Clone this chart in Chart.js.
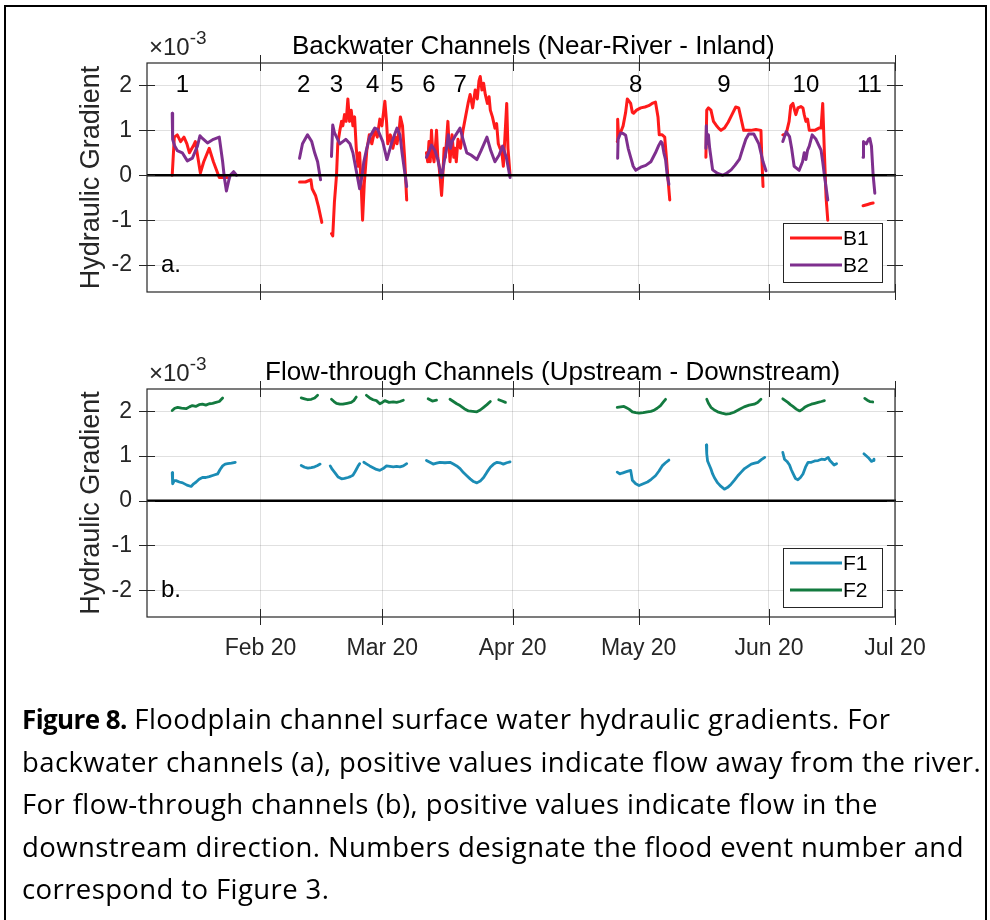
<!DOCTYPE html>
<html>
<head>
<meta charset="utf-8">
<script src="https://cdn.jsdelivr.net/npm/chart.js@4.4.1/dist/chart.umd.min.js"></script>
<style>
  body { margin: 0; background: #fff; }
  #page { position: relative; width: 990px; height: 920px; overflow: hidden; background: #fff; }
  #frame { position: absolute; left: 4px; top: 5px; width: 983px; height: 960px; border: 2px solid #000; box-sizing: border-box; }
  canvas { position: absolute; left: 0; }
  #caption { position: absolute; left: 22px; top: 698px; font-family: "Open Sans", Lato, sans-serif; font-size: 27.5px; letter-spacing: 0.4px; line-height: 42.5px; color: #000; white-space: nowrap; }
  #caption b { font-size: 26px; letter-spacing: -0.6px; }
</style>
</head>
<body>
<div id="page">
  <div id="frame"></div>
  <canvas id="topChart" width="990" height="330" style="top:0px"></canvas>
  <canvas id="botChart" width="990" height="370" style="top:330px"></canvas>
  <div id="caption">
    <b>Figure 8.</b> Floodplain channel surface water hydraulic gradients. For<br>
    backwater channels (a), positive values indicate flow away from the river.<br>
    For flow-through channels (b), positive values indicate flow in the<br>
    downstream direction. Numbers designate the flood event number and<br>
    correspond to Figure 3.
  </div>
</div>
<script>
// x = day of 2020 (Jan 1 = 0), y = hydraulic gradient x 1e-3
var xTickDays = [31, 60, 91, 121, 152, 182];
var xTickLabels = ['Feb 20', 'Mar 20', 'Apr 20', 'May 20', 'Jun 20', 'Jul 20'];
var yTicks = [-2, -1, 0, 1, 2];

var eventNames = ['1', '2', '3', '4', '5', '6', '7', '8', '9', '10', '11'];
var eventDays = [12.4, 41.3, 49.1, 57.7, 63.5, 71.1, 78.5, 120.3, 141.3, 160.8, 175.9];

// backwater channel B1 (red), one list per flood event
var B1 = [
  [[10.0,0.0],[10.5,0.85],[11.2,0.9],[12.0,0.75],[12.8,0.85],[13.5,0.7],[14.1,0.5],[15.0,0.65],[15.5,0.75],[16.1,0.4],[16.7,0.05],[17.5,0.3],[18.8,0.6],[19.8,0.3],[21.2,-0.05],[23.1,-0.05]],
  [[40.3,-0.15],[41.7,-0.15],[43.0,-0.1],[43.3,-0.3],[44.1,-0.45],[44.8,-0.7],[45.6,-1.05]],
  [[47.9,-1.3],[48.2,-1.35],[48.6,-0.6],[49.1,0.0],[49.4,0.7],[49.9,1.0],[50.3,1.2],[50.6,1.1],[51.0,1.35],[51.4,1.2],[51.8,1.7],[52.2,1.2],[52.6,1.45],[53.0,1.1],[53.4,1.3],[53.8,0.6],[54.2,0.2],[54.6,0.5],[55.0,-0.3],[55.3,-1.0],[55.7,-0.2],[56.3,0.55],[56.9,0.9],[57.5,0.7],[58.2,1.0],[58.8,0.85],[59.4,1.25],[59.9,1.1],[60.6,1.65],[61.0,1.2],[61.3,0.7],[61.9,0.9],[62.5,0.6],[63.1,0.85],[63.5,0.7],[64.0,1.0],[64.3,1.3],[64.8,1.1],[65.3,0.4],[65.8,-0.55]],
  [[70.5,0.5],[70.8,0.3],[71.1,0.75],[71.4,0.3],[71.7,1.0],[72.0,0.5],[72.3,0.3],[72.6,0.6],[72.9,1.0],[73.2,0.4],[73.5,0.2],[73.8,-0.1],[74.1,-0.45],[74.4,0.0],[74.7,0.6],[75.0,0.4],[75.3,0.8],[75.6,1.2],[76.1,0.3],[76.6,0.9],[77.0,0.4],[77.3,0.6],[77.6,0.3],[78.0,0.8],[78.6,0.6],[79.2,1.0],[79.8,1.3],[80.4,1.6],[80.9,1.8],[81.5,1.5],[82.1,1.9],[82.6,1.7],[83.0,2.1],[83.3,2.2],[83.7,1.9],[84.1,2.05],[84.5,1.8],[85.0,1.6],[85.4,1.75],[85.7,1.45],[86.2,1.3],[86.8,1.05],[87.2,1.15],[87.6,0.7],[88.0,0.6],[88.4,0.55],[88.8,0.2],[89.2,0.9],[89.6,1.6],[89.9,0.6],[90.4,0.0]],
  [[115.9,0.75],[116.0,1.25],[116.2,0.9],[116.7,0.95],[117.3,1.1],[117.9,1.4],[118.3,1.7],[118.7,1.65],[119.1,1.6],[119.5,1.4],[119.8,1.38],[120.5,1.45],[121.5,1.5],[122.5,1.52],[123.4,1.55],[124.2,1.6],[125.0,1.63],[125.6,1.3],[125.9,0.9],[126.6,0.9],[127.2,0.85],[127.6,0.4],[128.0,-0.1],[128.4,-0.55]],
  [[137.0,0.4],[137.2,1.45],[137.6,1.5],[138.2,1.45],[138.8,1.2],[139.4,1.12],[140.0,1.05],[140.6,1.0],[141.4,1.05],[142.3,1.18],[143.2,1.35],[144.1,1.52],[144.8,1.5],[145.4,1.25],[146.0,1.0],[147.7,1.0],[148.9,1.02],[150.1,1.0],[150.3,0.4],[150.6,-0.25]],
  [[155.3,0.9],[156.1,0.92],[156.8,1.2],[157.2,1.55],[157.7,1.6],[158.1,1.45],[158.4,1.35],[158.9,1.5],[159.6,1.53],[160.1,1.5],[160.4,1.35],[160.8,1.2],[161.2,1.25],[161.6,1.0],[162.0,1.0],[162.9,1.0],[163.9,1.05],[164.4,1.05],[164.8,1.6],[165.2,0.5],[165.6,-0.5],[166.0,-1.0]],
  [[174.4,-0.68],[175.5,-0.65],[176.2,-0.63],[176.8,-0.62],[177.0,-0.62]]
];

// backwater channel B2 (purple)
var B2 = [
  [[10.0,1.38],[10.1,0.8],[10.6,0.65],[11.2,0.55],[12.4,0.5],[13.6,0.32],[14.8,0.38],[16.0,0.65],[16.6,0.88],[17.2,0.82],[18.4,0.72],[19.8,0.8],[21.2,0.85],[22.0,0.3],[22.4,-0.05],[22.9,-0.35],[23.5,-0.1],[23.8,0.0],[24.6,0.08],[25.3,0.0]],
  [[40.3,0.38],[41.0,0.7],[42.2,0.9],[43.2,0.75],[43.9,0.5],[44.6,0.3],[45.3,-0.1]],
  [[47.9,0.42],[48.2,1.12],[48.6,0.95],[49.9,0.7],[51.3,0.8],[52.3,0.7],[53.0,0.5],[53.8,0.1],[54.6,-0.3],[55.2,0.0],[55.6,0.3],[56.3,0.6],[57.0,0.85],[58.2,1.05],[58.9,1.02],[60.1,0.75],[61.1,0.35],[62.3,0.75],[63.5,1.05],[64.2,0.9],[64.7,0.5],[65.8,-0.25]],
  [[70.5,0.4],[71.0,0.5],[71.7,0.67],[72.5,0.55],[73.2,0.35],[74.1,-0.05],[74.9,0.4],[75.3,0.6],[75.7,0.9],[76.2,0.6],[76.6,0.75],[77.5,0.9],[78.5,1.05],[79.2,0.8],[80.1,0.5],[81.1,0.45],[81.8,0.4],[82.5,0.35],[83.5,0.55],[84.9,0.85],[85.8,0.55],[86.8,0.3],[87.8,0.45],[88.6,0.65],[89.5,0.4],[90.4,-0.05]],
  [[116.0,0.38],[116.1,0.8],[116.7,0.94],[117.3,0.93],[117.9,0.89],[118.5,0.6],[119.1,0.4],[119.7,0.2],[120.3,0.11],[121.5,0.18],[122.7,0.22],[123.9,0.3],[125.0,0.5],[125.8,0.67],[126.3,0.75],[126.6,0.72],[127.0,0.5],[127.4,0.35],[127.8,0.0],[128.2,-0.2]],
  [[137.0,0.6],[137.1,1.1],[137.3,0.7],[137.6,0.9],[137.9,0.6],[138.6,0.12],[139.8,0.04],[141.0,0.0],[142.0,0.05],[143.0,0.12],[143.9,0.22],[145.0,0.36],[145.8,0.6],[146.5,0.8],[147.2,0.92],[148.4,0.92],[149.6,0.7],[150.6,0.3],[151.3,0.1]],
  [[155.3,0.75],[156.1,0.97],[156.9,0.86],[157.4,0.6],[158.0,0.2],[159.2,0.11],[160.0,0.3],[160.4,0.5],[160.8,0.35],[161.2,0.56],[161.6,0.65],[162.3,0.9],[163.2,0.8],[164.4,0.56],[164.8,0.3],[165.2,0.0],[166.0,-0.55]],
  [[174.4,0.4],[174.5,0.75],[175.2,0.7],[175.7,0.8],[176.0,0.82],[176.4,0.65],[176.8,0.0],[177.2,-0.4]]
];

// flow-through channel F1 (blue)
var F1 = [
  [[10.0,0.63],[10.1,0.38],[10.5,0.45],[10.9,0.45],[11.7,0.42],[12.5,0.4],[13.5,0.35],[14.5,0.32],[15.1,0.38],[15.7,0.42],[16.4,0.48],[17.2,0.52],[18.0,0.52],[18.8,0.54],[19.8,0.57],[20.8,0.6],[21.4,0.7],[22.0,0.78],[22.6,0.82],[23.2,0.83],[24.1,0.84],[25.0,0.86]],
  [[40.7,0.79],[41.5,0.75],[42.3,0.73],[43.1,0.74],[43.9,0.76],[44.6,0.79],[45.2,0.82]],
  [[47.6,0.78],[48.1,0.7],[48.7,0.63],[49.5,0.53],[50.3,0.49],[51.0,0.5],[51.8,0.52],[52.4,0.54],[53.0,0.57],[53.4,0.63],[53.8,0.7],[54.2,0.77],[54.6,0.83]],
  [[55.6,0.86],[56.3,0.82],[57.0,0.78],[57.8,0.74],[58.6,0.7],[59.4,0.68],[60.2,0.72],[61.0,0.78],[61.8,0.77],[62.6,0.76],[63.4,0.77],[64.2,0.76],[65.0,0.78],[65.8,0.83]],
  [[70.5,0.9],[71.3,0.86],[72.1,0.82],[72.9,0.84],[73.7,0.86],[74.9,0.85],[76.1,0.86],[76.9,0.82],[77.7,0.78],[78.5,0.72],[79.3,0.63],[80.1,0.56],[80.9,0.49],[81.7,0.43],[82.5,0.4],[83.3,0.44],[84.1,0.52],[84.9,0.64],[85.7,0.75],[86.5,0.82],[87.3,0.86],[88.0,0.85],[88.8,0.82],[89.6,0.85],[90.4,0.87]],
  [[115.9,0.64],[116.5,0.6],[117.1,0.62],[118.1,0.65],[119.1,0.68],[119.5,0.46],[120.3,0.38],[121.1,0.34],[122.1,0.38],[123.1,0.42],[124.0,0.48],[125.0,0.56],[125.8,0.66],[126.6,0.78],[127.4,0.85],[128.2,0.91]],
  [[137.1,1.25],[137.2,1.05],[137.4,0.89],[137.8,0.8],[138.2,0.71],[138.6,0.6],[139.0,0.52],[139.8,0.4],[140.6,0.32],[141.4,0.26],[142.2,0.3],[143.0,0.37],[143.8,0.46],[144.6,0.56],[145.4,0.64],[146.2,0.72],[147.0,0.77],[147.8,0.82],[148.6,0.84],[149.4,0.86],[150.2,0.92],[151.0,0.97]],
  [[155.3,1.08],[155.7,0.93],[156.3,0.88],[156.9,0.8],[157.3,0.7],[157.7,0.62],[158.3,0.5],[158.9,0.47],[159.5,0.52],[160.1,0.6],[160.7,0.75],[161.3,0.86],[162.1,0.86],[162.9,0.89],[163.7,0.9],[164.5,0.93],[165.3,0.92],[166.1,0.97],[166.5,0.9],[166.9,0.86],[167.5,0.8],[168.1,0.83]],
  [[174.6,1.05],[175.2,1.0],[175.8,0.95],[176.4,0.88],[176.8,0.9],[177.0,0.93]]
];

// flow-through channel F2 (green)
var F2 = [
  [[10.0,2.02],[10.6,2.07],[11.3,2.09],[12.2,2.07],[13.3,2.06],[14.1,2.1],[14.8,2.13],[15.6,2.11],[16.4,2.15],[17.2,2.16],[18.0,2.14],[18.8,2.17],[19.6,2.18],[20.4,2.2],[21.2,2.22],[22.0,2.3]],
  [[40.7,2.3],[41.5,2.28],[42.3,2.26],[43.1,2.27],[43.9,2.3],[44.6,2.36]],
  [[47.9,2.27],[48.5,2.22],[49.1,2.18],[49.9,2.16],[50.6,2.16],[51.6,2.18],[52.6,2.2],[53.2,2.24],[53.8,2.32]],
  [[56.2,2.36],[57.0,2.3],[57.8,2.26],[58.6,2.24],[59.4,2.17],[60.0,2.2],[60.6,2.24],[61.6,2.2],[62.6,2.21],[63.4,2.2],[64.2,2.22],[65.0,2.25]],
  [[70.9,2.28],[71.9,2.23],[72.9,2.25]],
  [[76.1,2.27],[76.9,2.22],[77.7,2.17],[78.5,2.13],[79.5,2.06],[80.5,2.01],[81.5,2.0],[82.5,1.99],[83.3,2.03],[84.1,2.09],[84.9,2.15],[85.7,2.22]],
  [[87.7,2.26],[88.5,2.23],[89.3,2.2]],
  [[115.9,2.09],[116.7,2.1],[117.5,2.11],[118.1,2.08],[118.7,2.05],[119.5,1.99],[120.3,1.97],[121.1,1.96],[122.1,1.97],[123.1,1.99],[123.9,2.0],[124.6,2.02],[125.4,2.07],[126.2,2.13],[126.8,2.2],[127.4,2.27]],
  [[137.2,2.27],[137.6,2.18],[138.2,2.09],[139.0,2.03],[139.8,1.99],[140.8,1.96],[141.8,1.94],[142.7,1.95],[143.7,1.98],[144.9,2.04],[146.1,2.1],[147.3,2.14],[148.5,2.16],[149.3,2.2],[150.1,2.27]],
  [[155.3,2.28],[155.9,2.24],[156.5,2.2],[157.1,2.15],[157.7,2.11],[158.5,2.05],[159.3,2.01],[159.9,2.04],[160.5,2.09],[161.3,2.13],[162.1,2.16],[162.9,2.18],[163.7,2.2],[164.5,2.22],[165.2,2.24]],
  [[174.8,2.29],[175.4,2.25],[176.0,2.22],[176.7,2.21]]
];

var FONT = '"Liberation Sans", Arial, Helvetica, sans-serif';
var AXIS_COLOR = '#262626';

// join the event segments, with a null point between them so the line breaks
function toPoints(segs) {
  var out = [];
  for (var i = 0; i < segs.length; i++) {
    if (i > 0) out.push({x: segs[i][0][0] - 0.05, y: null});
    for (var j = 0; j < segs[i].length; j++) {
      out.push({x: segs[i][j][0], y: segs[i][j][1]});
    }
  }
  return out;
}

function line(ctx, x1, y1, x2, y2) {
  ctx.beginPath();
  ctx.moveTo(x1, y1);
  ctx.lineTo(x2, y2);
  ctx.stroke();
}

// matlab-ish axes decorations: box, ticks both ways, zero line, texts, legend
var decor = {
  id: 'decor',
  afterDatasetsDraw: function(chart, args, o) {
    var ctx = chart.ctx, a = chart.chartArea;
    var xs = chart.scales.x, ys = chart.scales.y;
    ctx.save();

    // zero line
    var y0 = ys.getPixelForValue(0);
    ctx.strokeStyle = '#000';
    ctx.lineWidth = 2.6;
    line(ctx, a.left, y0, a.right + 1, y0);

    // box + ticks
    ctx.strokeStyle = AXIS_COLOR;
    ctx.lineWidth = 1.2;
    ctx.strokeRect(a.left, a.top, a.right - a.left, a.bottom - a.top);
    ctx.lineWidth = 1;
    xTickDays.forEach(function(d) {
      var px = Math.round(xs.getPixelForValue(d)) + 0.5;
      line(ctx, px, a.top - 8, px, a.top + 8);
      line(ctx, px, a.bottom - 8, px, a.bottom + 8);
    });
    yTicks.forEach(function(v) {
      var py = Math.round(ys.getPixelForValue(v)) + 0.5;
      line(ctx, a.left - 8, py, a.left + 8, py);
      line(ctx, a.right - 8, py, a.right + 8, py);
    });

    // y label
    ctx.fillStyle = AXIS_COLOR;
    ctx.font = '27px ' + FONT;
    ctx.textAlign = 'center';
    ctx.textBaseline = 'middle';
    ctx.save();
    ctx.translate(92, (a.top + a.bottom) / 2);
    ctx.rotate(-Math.PI / 2);
    ctx.fillText('Hydraulic Gradient', 0, 0);
    ctx.restore();

    // exponent
    ctx.textAlign = 'left';
    ctx.textBaseline = 'alphabetic';
    ctx.font = '24px ' + FONT;
    ctx.fillText('\u00d710', a.left + 2, a.top - 8);
    var w = ctx.measureText('\u00d710').width;
    ctx.font = '19px ' + FONT;
    ctx.fillText('-3', a.left + 2 + w, a.top - 19);

    // title
    ctx.fillStyle = '#000';
    ctx.font = '26px ' + FONT;
    ctx.fillText(o.title, o.titleX, a.top - 9);

    // panel letter
    ctx.font = '24px ' + FONT;
    ctx.textBaseline = 'middle';
    ctx.fillText(o.letter, a.left + 14, ys.getPixelForValue(-2));

    // event numbers
    if (o.events) {
      ctx.textAlign = 'center';
      for (var i = 0; i < eventNames.length; i++) {
        ctx.fillText(eventNames[i], xs.getPixelForValue(eventDays[i]), ys.getPixelForValue(2));
      }
    }

    // legend
    var bw = 99, bh = 59;
    var bx = a.right - 13 - bw, by = a.bottom - 10 - bh;
    ctx.fillStyle = '#fff';
    ctx.fillRect(bx, by, bw, bh);
    ctx.strokeStyle = AXIS_COLOR;
    ctx.lineWidth = 1;
    ctx.strokeRect(bx + 0.5, by + 0.5, bw, bh);
    ctx.font = '21px ' + FONT;
    ctx.textAlign = 'left';
    ctx.fillStyle = '#000';
    chart.data.datasets.forEach(function(ds, k) {
      var ly = by + 15 + k * 27;
      ctx.strokeStyle = ds.borderColor;
      ctx.lineWidth = 3;
      line(ctx, bx + 7, ly, bx + 59, ly);
      ctx.fillText(ds.label, bx + 60, ly + 1);
    });
    ctx.restore();
  }
};

function makeOptions(showX, pad, xHeight, xtPad, deco) {
  return {
    responsive: false,
    animation: false,
    devicePixelRatio: 1,
    layout: { padding: pad },
    plugins: { legend: { display: false }, tooltip: { enabled: false }, title: { display: false }, decor: deco },
    elements: { point: { radius: 0 }, line: { tension: 0, borderJoinStyle: 'round', borderCapStyle: 'round' } },
    scales: {
      x: {
        type: 'linear', min: 4, max: 182,
        afterBuildTicks: function(s) { s.ticks = xTickDays.map(function(v) { return {value: v}; }); },
        afterFit: function(s) { s.height = xHeight; },
        grid: { color: 'rgba(38,38,38,0.14)', lineWidth: 1, drawTicks: false },
        border: { display: false },
        ticks: {
          display: showX, padding: xtPad, maxRotation: 0, autoSkip: false,
          color: AXIS_COLOR, font: { family: FONT, size: 23 },
          callback: function(v) { return xTickLabels[xTickDays.indexOf(v)]; }
        }
      },
      y: {
        min: -2.6, max: 2.5,
        afterBuildTicks: function(s) { s.ticks = yTicks.map(function(v) { return {value: v}; }); },
        afterFit: function(s) { s.width = 60; },
        grid: { color: 'rgba(38,38,38,0.14)', lineWidth: 1, drawTicks: false },
        border: { display: false },
        ticks: {
          padding: 15, color: AXIS_COLOR, font: { family: FONT, size: 23 },
          callback: function(v) { return String(v); }
        }
      }
    }
  };
}

new Chart('topChart', {
  type: 'line',
  data: {
    datasets: [
      { label: 'B1', data: toPoints(B1), borderColor: '#ff1a1a', borderWidth: 3, order: 2 },
      { label: 'B2', data: toPoints(B2), borderColor: '#7e2f8e', borderWidth: 3, order: 1 }
    ]
  },
  options: makeOptions(false, { left: 87, right: 95, top: 63, bottom: 38 }, 0, 0,
    { title: 'Backwater Channels (Near-River - Inland)', titleX: 292, letter: 'a.', events: true }),
  plugins: [decor]
});

new Chart('botChart', {
  type: 'line',
  data: {
    datasets: [
      { label: 'F1', data: toPoints(F1), borderColor: '#1b8cb5', borderWidth: 2.8, order: 2 },
      { label: 'F2', data: toPoints(F2), borderColor: '#137a3f', borderWidth: 2.8, order: 1 }
    ]
  },
  options: makeOptions(true, { left: 87, right: 95, top: 59, bottom: 33 }, 50, 18,
    { title: 'Flow-through Channels (Upstream - Downstream)', titleX: 265, letter: 'b.', events: false }),
  plugins: [decor]
});
</script>
</body>
</html>
